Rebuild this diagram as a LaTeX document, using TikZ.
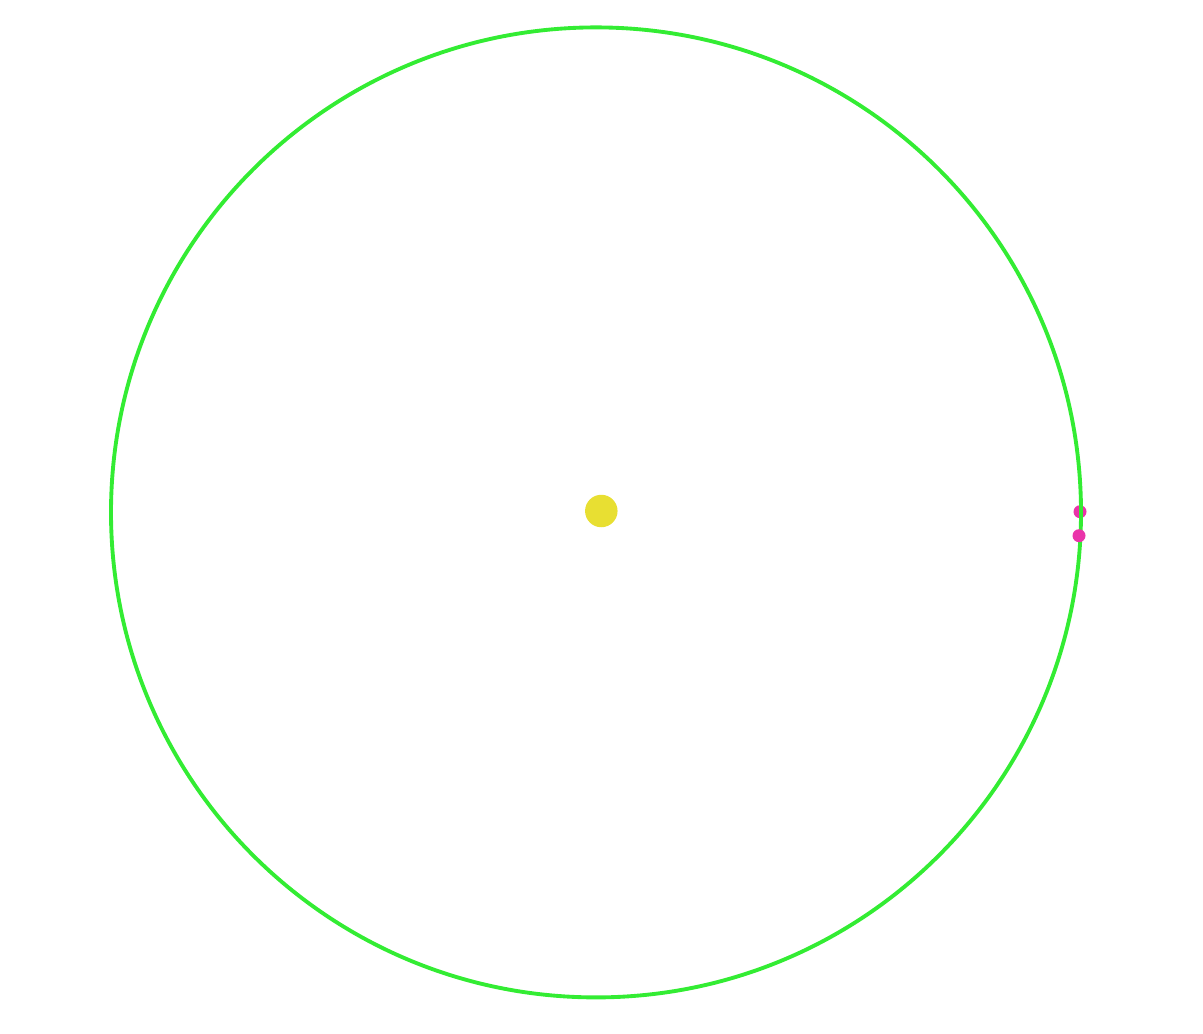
\documentclass[tikz,border=0pt]{standalone}
\usepackage{tikz}
\usetikzlibrary{positioning, calc}

\definecolor{orbitgreen}{RGB}{51,236,51}
\definecolor{sunyellow}{RGB}{232,223,50}
\definecolor{planetpink}{RGB}{234,52,170}

\begin{document}
\begin{tikzpicture}[x=0.02cm, y=-0.02cm, every node/.style={circle, inner sep=0pt}]
    \useasboundingbox (0,0) rectangle (1203,1034);
    \coordinate (o) at (596,512.4);
    \node[fill=sunyellow, minimum size=0.65cm] (sun) at (601.3,511) {};

    \node[fill=planetpink, minimum size=0.26cm] (p1) at (1080,511.7) {};

    \draw[orbitgreen, line width=2.2pt] (o) circle (485);

    \node[fill=planetpink, minimum size=0.26cm] (p2) at (1079,535.7) {};
\end{tikzpicture}
\end{document}
